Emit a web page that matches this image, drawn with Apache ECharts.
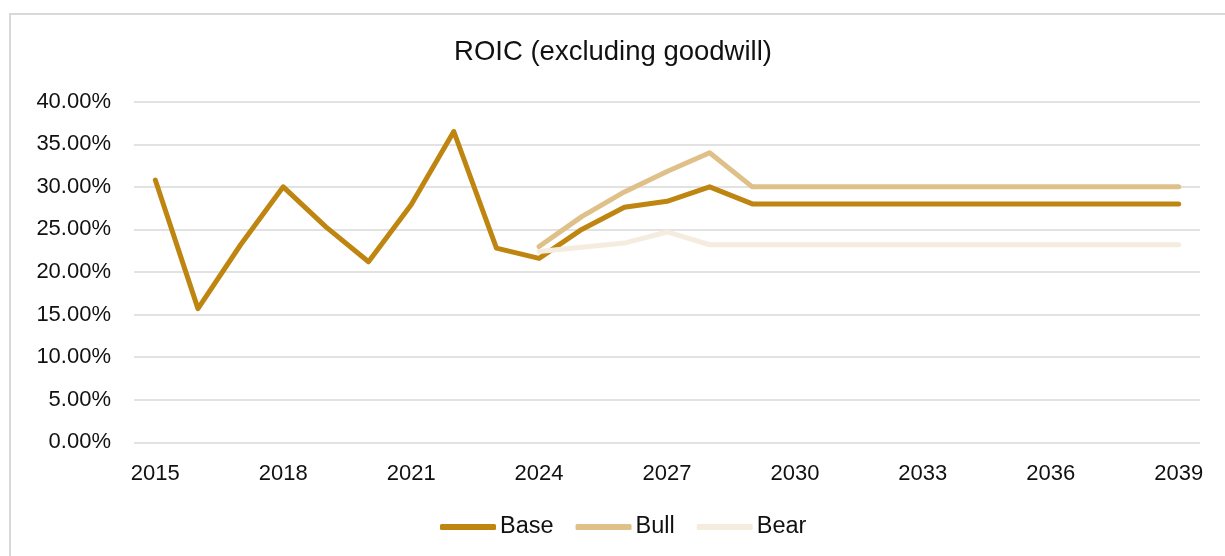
<!DOCTYPE html>
<html>
<head>
<meta charset="utf-8">
<script src="https://cdn.jsdelivr.net/npm/echarts@6/dist/echarts.min.js"></script>
<style>
html,body{margin:0;padding:0;background:#fff;}
#frame{position:absolute;left:9px;top:13px;width:1240px;height:560px;border-left:2px solid #d9d9d9;border-top:2px solid #d9d9d9;box-sizing:border-box;}
#chart{position:absolute;left:0;top:0;width:1225px;height:556px;}
</style>
</head>
<body>
<div id="frame"></div>
<div id="chart"></div>
<script>
const years = ['2015','2016','2017','2018','2019','2020','2021','2022','2023','2024','2025','2026','2027','2028','2029','2030','2031','2032','2033','2034','2035','2036','2037','2038','2039'];
const base = [30.8,15.7,23.2,30.0,25.3,21.2,27.9,36.5,22.8,21.6,25.0,27.6,28.3,30.0,28.0,28.0,28.0,28.0,28.0,28.0,28.0,28.0,28.0,28.0,28.0];
const bull = [null,null,null,null,null,null,null,null,null,23.0,26.5,29.4,31.8,34.0,30.0,30.0,30.0,30.0,30.0,30.0,30.0,30.0,30.0,30.0,30.0];
const bear = [null,null,null,null,null,null,null,null,null,22.4,22.9,23.4,24.7,23.2,23.2,23.2,23.2,23.2,23.2,23.2,23.2,23.2,23.2,23.2,23.2];
const yTicks = {min:0, max:40, interval:5};
const seriesNames = ['Base','Bull','Bear'];
const colors = ['#BF8511','#DFC089','#F4ECDE'];

const chart = echarts.init(document.getElementById('chart'), null, {renderer:'canvas'});
const font = 'Liberation Sans, Arial, sans-serif';
function mk(name, data, color){
  return {name:name, type:'line', data:data, symbol:'none', connectNulls:false,
    lineStyle:{color:color, width:5, cap:'round', join:'round'}, itemStyle:{color:color}};
}
chart.setOption({
  animation:false,
  title:{text:'ROIC (excluding goodwill)', left:608, textAlign:'center', top:33,
    textStyle:{fontFamily:font, fontSize:27.5, fontWeight:'normal', color:'#111'}},
  grid:{left:134, right:25, top:101.7, bottom:113.7, containLabel:false},
  legend:{data:seriesNames, left:435, top:510, itemWidth:56, itemHeight:6, itemGap:22, icon:'roundRect',
    textStyle:{fontFamily:font, fontSize:23.5, color:'#111', padding:[0,0,0,-1]}},
  xAxis:{type:'category', data:years, boundaryGap:true,
    axisLine:{show:false}, axisTick:{show:false},
    axisLabel:{interval:2, margin:21, fontFamily:font, fontSize:22, color:'#111'}},
  yAxis:{type:'value', min:yTicks.min, max:yTicks.max, interval:yTicks.interval,
    axisLine:{show:false}, axisTick:{show:false},
    splitLine:{lineStyle:{color:'#d9d9d9', width:1.5}},
    axisLabel:{margin:23, fontFamily:font, fontSize:22, color:'#111', formatter:v=>v.toFixed(2)+'%'}},
  series:[mk(seriesNames[0], base, colors[0]), mk(seriesNames[1], bull, colors[1]), mk(seriesNames[2], bear, colors[2])]
});
</script>
</body>
</html>
